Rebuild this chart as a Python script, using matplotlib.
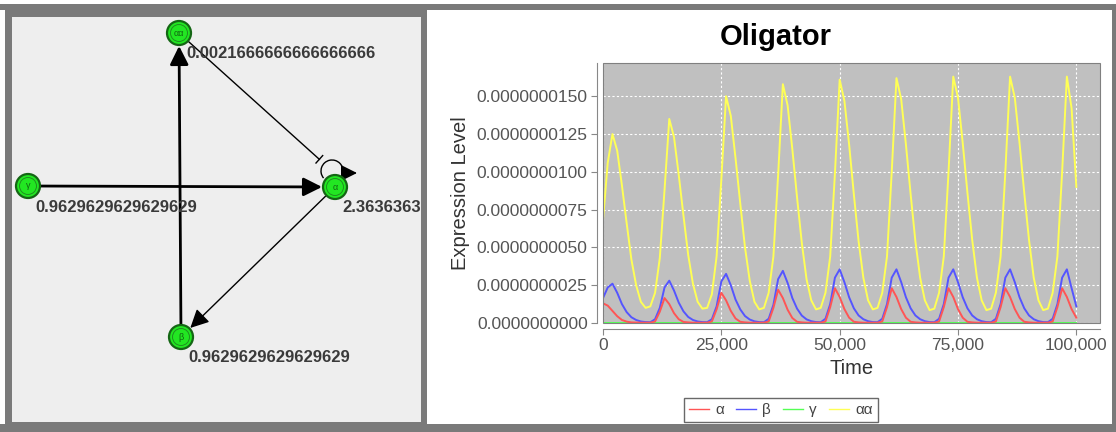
import numpy as np
import matplotlib.pyplot as plt
from matplotlib.patches import Rectangle, Circle, Arc, FancyArrowPatch
from matplotlib.ticker import FuncFormatter

plt.rcParams['font.family'] = ['Liberation Sans', 'DejaVu Sans']

W, H = 1116, 432

# ---- network: node layout (pixels) and the value printed under each node
node_pos = {'αα': (179, 33), 'γ': (28, 186), 'α': (335, 187), 'β': (181, 337)}
node_value = {'αα': '0.0021666666666666666', 'γ': '0.9629629629629629',
              'α': '2.3636363', 'β': '0.9629629629629629'}
# (source, target, kind, thick)
edges = [('γ', 'α', 'act', True), ('β', 'αα', 'act', True),
         ('αα', 'α', 'rep', False), ('α', 'β', 'act', False)]

# ---- simulation output, one sample every 1000 time units (units of 1e-9)
time = np.arange(0, 100001, 1000)

alpha = [1.3, 1.15, 0.8, 0.45, 0.2, 0.09, 0.04, 0.03, 0.02, 0.02, 0.02,
         0.1, 0.75, 1.65, 1.25, 0.65, 0.25, 0.07, 0.04, 0.02, 0.02, 0.02, 0.02,
         0.1, 0.9, 2.0, 1.5, 0.8, 0.3, 0.08, 0.04, 0.02, 0.02, 0.02, 0.02,
         0.1, 1.0, 2.2, 1.65, 0.88, 0.33, 0.08, 0.04, 0.02, 0.02, 0.02, 0.02,
         0.1, 1.05, 2.3, 1.72, 0.92, 0.35, 0.08, 0.04, 0.02, 0.02, 0.02, 0.02,
         0.1, 1.05, 2.3, 1.72, 0.92, 0.35, 0.08, 0.04, 0.02, 0.02, 0.02, 0.02,
         0.1, 1.05, 2.3, 1.72, 0.92, 0.35, 0.08, 0.04, 0.02, 0.02, 0.02, 0.02,
         0.1, 1.05, 2.3, 1.72, 0.92, 0.35, 0.08, 0.04, 0.02, 0.02, 0.02, 0.02,
         0.1, 1.05, 2.3, 1.72, 0.92, 0.35]

beta = [1.65, 2.35, 2.6, 2.0, 1.25, 0.72, 0.38, 0.2, 0.1, 0.06, 0.05,
        0.25, 1.0, 2.35, 2.8, 2.15, 1.35, 0.77, 0.4, 0.2, 0.1, 0.06, 0.05,
        0.25, 1.1, 2.75, 3.25, 2.5, 1.55, 0.9, 0.46, 0.23, 0.11, 0.06, 0.05,
        0.28, 1.2, 2.9, 3.45, 2.65, 1.65, 0.95, 0.49, 0.24, 0.12, 0.06, 0.05,
        0.28, 1.25, 3.0, 3.55, 2.7, 1.7, 0.97, 0.5, 0.25, 0.12, 0.06, 0.05,
        0.28, 1.25, 3.0, 3.55, 2.7, 1.7, 0.97, 0.5, 0.25, 0.12, 0.06, 0.05,
        0.28, 1.25, 3.0, 3.55, 2.7, 1.7, 0.97, 0.5, 0.25, 0.12, 0.06, 0.05,
        0.28, 1.25, 3.0, 3.55, 2.7, 1.7, 0.97, 0.5, 0.25, 0.12, 0.06, 0.05,
        0.28, 1.25, 3.0, 3.55, 2.3, 1.1]

gamma_time = [0, 100000]
gamma = [0.03, 0.03]

alpha_alpha = [6.8, 10.6, 12.5, 11.4, 9.1, 6.6, 4.2, 2.5, 1.4, 1.0, 1.1,
               2.0, 4.3, 8.8, 13.5, 12.3, 9.8, 7.1, 4.5, 2.6, 1.4, 0.95, 1.0,
               1.9, 4.4, 9.5, 15.0, 13.7, 10.9, 7.9, 5.0, 2.8, 1.4, 0.9, 1.0,
               2.0, 4.4, 9.8, 15.8, 14.4, 11.5, 8.3, 5.3, 2.9, 1.5, 0.9, 1.0,
               2.0, 4.4, 9.9, 16.1, 14.7, 11.8, 8.5, 5.4, 3.0, 1.5, 0.9, 1.0,
               2.0, 4.4, 10.0, 16.2, 14.8, 11.8, 8.5, 5.4, 3.0, 1.5, 0.85, 0.95,
               2.0, 4.4, 10.0, 16.3, 14.9, 11.9, 8.6, 5.5, 3.0, 1.5, 0.85, 0.95,
               2.0, 4.4, 10.0, 16.3, 14.9, 11.9, 8.6, 5.5, 3.0, 1.5, 0.85, 0.95,
               2.0, 4.4, 10.0, 16.3, 14.2, 9.0]

x_ticks = [0, 25000, 50000, 75000, 100000]
y_ticks = [0, 2.5, 5.0, 7.5, 10.0, 12.5, 15.0]
scale = 1e-9

fig = plt.figure(figsize=(W / 100, H / 100), dpi=100)
fig.patch.set_facecolor('white')

# full-figure canvas in pixel units for frames and the network drawing
bg = fig.add_axes([0, 0, 1, 1])
bg.set_xlim(0, W)
bg.set_ylim(H, 0)
bg.axis('off')

frame = '#7a7a7a'
bg.add_patch(Rectangle((0, 4), W, 6, color=frame, lw=0))
bg.add_patch(Rectangle((0, 424), W, 8, color=frame, lw=0))
bg.add_patch(Rectangle((1112, 4), 4, 428, color=frame, lw=0))
bg.add_patch(Rectangle((5, 7), 422, 423, color=frame, lw=0))
panel = Rectangle((12, 17), 409, 405, color='#eeeeee', lw=0)
bg.add_patch(panel)

# edges
def unit(a, b):
    d = np.array(b, float) - np.array(a, float)
    return d / np.hypot(*d)

for src, dst, kind, thick in edges:
    p0, p1 = np.array(node_pos[src], float), np.array(node_pos[dst], float)
    if kind == 'rep':
        p1 = p1 + np.array([-6, -19])
    u = unit(p0, p1)
    a = p0 + u * 13
    b = p1 - u * 13
    lw = 2.0 if thick else 1.0
    if kind == 'act':
        bg.add_patch(FancyArrowPatch(a, b, arrowstyle='-|>,head_length=0.8,head_width=0.4',
                                     mutation_scale=14, lw=lw, color='black',
                                     shrinkA=0, shrinkB=0))
    else:
        bg.plot([a[0], b[0]], [a[1], b[1]], color='black', lw=lw)
        n = np.array([-u[1], u[0]])
        bg.plot([b[0] - 5 * n[0], b[0] + 5 * n[0]], [b[1] - 5 * n[1], b[1] + 5 * n[1]],
                color='black', lw=1.0)

# self activation loop on α
ax0, ay0 = node_pos['α']
bg.add_patch(Arc((ax0 - 3, ay0 - 16), 22, 22, theta1=140, theta2=15, color='black', lw=1.0))
bg.add_patch(FancyArrowPatch((ax0 + 7, ay0 - 14), (ax0 + 22, ay0 - 14),
                             arrowstyle='-|>,head_length=0.9,head_width=0.45',
                             mutation_scale=11, lw=1.0, color='black',
                             shrinkA=0, shrinkB=0))

# nodes and their values
for name, (x, y) in node_pos.items():
    bg.add_patch(Circle((x, y), 12, fc='#22e622', ec='#146614', lw=1.6, zorder=5))
    bg.add_patch(Circle((x, y), 8.5, fill=False, ec='#1f8f1f', lw=0.7, zorder=6))
    bg.text(x, y, name, ha='center', va='center', fontsize=6.5, color='#116611', zorder=7)
    t = bg.text(x + 7, y + 21, node_value[name], ha='left', va='center',
                fontsize=12, fontweight='bold', color='#3a3a3a', zorder=8)
    t.set_clip_on(True)
    t.set_clip_path(panel)

# ---- time course chart
ax = fig.add_axes([603 / W, (H - 323) / H, (1100 - 603) / W, (323 - 63) / H])
ax.set_facecolor('#c0c0c0')

l_aa, = ax.plot(time, np.array(alpha_alpha) * scale, color='#ffff55', lw=1.4, zorder=2)
l_g, = ax.plot(gamma_time, np.array(gamma) * scale, color='#55ff55', lw=1.4, zorder=3)
l_b, = ax.plot(time, np.array(beta) * scale, color='#5555ff', lw=1.4, zorder=4)
l_a, = ax.plot(time, np.array(alpha) * scale, color='#ff5555', lw=1.4, zorder=5)

ax.set_xlim(0, 105000)
ax.set_ylim(0, 17.2e-9)
ax.set_xticks(x_ticks)
ax.set_xticklabels([f'{v:,}' for v in x_ticks])
ax.set_yticks([v * scale for v in y_ticks])
ax.yaxis.set_major_formatter(FuncFormatter(lambda v, p: f'{v:.10f}'))
ax.grid(True, color='white', linestyle=(0, (2, 2)), lw=0.8)
ax.set_axisbelow(True)

for side in ['top', 'right']:
    ax.spines[side].set_visible(False)
for side in ['left', 'bottom']:
    ax.spines[side].set_position(('outward', 4))
    ax.spines[side].set_color('#888888')
ax.add_patch(Rectangle((0, 0), 1, 1, transform=ax.transAxes, fill=False,
                       ec='#808080', lw=0.8, clip_on=False, zorder=6))
ax.tick_params(length=4, width=0.8, color='#888888', labelcolor='#555555',
               labelsize=12.5, pad=3)

ax.set_xlabel('Time', fontsize=14.5, color='#333333', va='center')
ax.xaxis.set_label_coords(0.5, -0.175)
ax.set_ylabel('Expression Level', fontsize=14.5, color='#333333', va='center')
ax.yaxis.set_label_coords(-0.286, 0.5)

fig.text(776 / W, 1 - 37 / H, 'Oligator', ha='center', va='center',
         fontsize=21, fontweight='bold', color='black')

leg = fig.legend([l_a, l_b, l_g, l_aa], ['α', 'β', 'γ', 'αα'], loc='center',
                 bbox_to_anchor=(781 / W, 1 - 410 / H), ncol=4, frameon=True,
                 fancybox=False, edgecolor='#444444', fontsize=11,
                 handlelength=1.3, handletextpad=0.4, columnspacing=0.8,
                 borderpad=0.35, labelcolor='#444444')
leg.get_frame().set_linewidth(1.0)
for line in leg.get_lines():
    line.set_linewidth(1.0)

fig.savefig('out.png', dpi=100)
